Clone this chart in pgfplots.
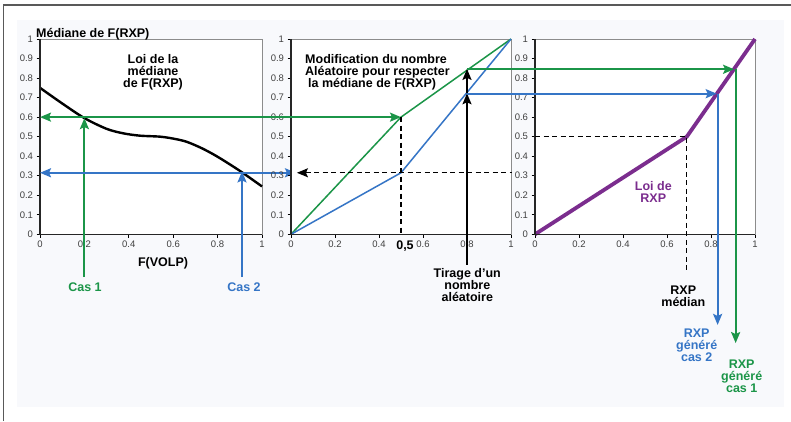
\documentclass[border=0pt]{standalone}
\usepackage{fontspec}
\setmainfont{Liberation Sans}
\usepackage{pgfplots}
\pgfplotsset{compat=1.18}
\usetikzlibrary{arrows.meta}
\definecolor{cgreen}{HTML}{1B9548}
\definecolor{cblue}{HTML}{3575C6}
\definecolor{cpurple}{HTML}{7B2D8E}
\definecolor{bg}{HTML}{F8F9FC}
\newcommand\lbl{\fontsize{12.5}{14.3}\selectfont\bfseries}
\newcommand\tkf{\fontsize{9.5}{10}\selectfont}
\tikzset{arr/.style={-{Stealth[length=11pt,width=9pt,inset=2pt]}},
  arrb/.style={{Stealth[length=11pt,width=9pt,inset=2pt]}-{Stealth[length=11pt,width=9pt,inset=2pt]}},
  arrl/.style={{Stealth[length=11pt,width=9pt,inset=2pt]}-},
  dsh/.style={black, line width=1.3pt, dash pattern=on 5pt off 3.5pt}}
\pgfplotsset{panel/.style={
  scale only axis, width=220pt, height=195.3pt, anchor=south west,
  xmin=0, xmax=1, ymin=0, ymax=1, clip=false,
  xtick={0,0.2,0.4,0.6,0.8,1},
  ytick={0,0.1,0.2,0.3,0.4,0.5,0.6,0.7,0.8,0.9,1},
  xticklabels={0,0.2,0.4,0.6,0.8,1},
  yticklabels={0,0.1,0.2,0.3,0.4,0.5,0.6,0.7,0.8,0.9,1},
  tick pos=left, tick align=outside, major tick length=3.5pt,
  axis background/.style={fill=white},
  axis line style={black!45, line width=0.8pt},
  tick style={black, line width=0.7pt},
  xticklabel style={font=\tkf, text=black!75},
  yticklabel style={font=\tkf, text=black!75},
}}
\begin{document}
\begin{tikzpicture}[x=1pt,y=1pt]
\useasboundingbox (0,0) rectangle (791,421);
\fill[white] (0,0) rectangle (791,421);
\fill[bg] (17,14) rectangle (784,401);
\draw[black!65, line width=1.5pt] (3.5,0) -- (3.5,416) -- (791,416);

% Panel 1
\begin{axis}[panel, width=222pt, at={(40pt,186.7pt)}]
\addplot[black, line width=2.4pt, smooth] coordinates {
(0,0.75) (0.1,0.67) (0.2,0.595) (0.3,0.54) (0.375,0.517) (0.45,0.505)
(0.54,0.5) (0.6,0.49) (0.66,0.474) (0.73,0.44) (0.8,0.397) (0.9,0.325) (1,0.245)};
\draw[black!85, line width=1.2pt] (axis cs:0,1) -- (axis cs:0,0) -- (axis cs:1,0);
\draw[cgreen, line width=2pt, arr] (axis cs:0.2,-0.219) -- (axis cs:0.2,0.595);
\draw[cblue, line width=2pt, arr] (axis cs:0.91,-0.219) -- (axis cs:0.91,0.322);
\draw[cblue, line width=2pt, arrb] (axis cs:0,0.315) -- (axis cs:1.153,0.315);
\end{axis}

% Panel 2
\begin{axis}[panel, at={(291pt,186.7pt)}]
\addplot[cgreen, line width=1.5pt] coordinates {(0,0) (0.5,0.6) (1,1)};
\addplot[cblue, line width=1.5pt] coordinates {(0,0) (0.5,0.315) (1,1)};
\draw[black!85, line width=1.2pt] (axis cs:0,1) -- (axis cs:0,0) -- (axis cs:1,0);
\draw[cgreen, line width=2pt, arrb] (axis cs:-1.141,0.6) -- (axis cs:0.5,0.6);
\draw[dsh, arrl] (axis cs:0.027,0.315) -- (axis cs:1.005,0.315);
\draw[dsh] (axis cs:0.5,0.6) -- (axis cs:0.5,0.0);
\draw[black, line width=1.8pt, arr] (axis cs:0.8,-0.157) -- (axis cs:0.8,0.722);
\draw[black, line width=1.8pt, arr] (axis cs:0.8,0.722) -- (axis cs:0.8,0.847);
\end{axis}

% Panel 3
\begin{axis}[panel, at={(535pt,186.7pt)}]
\addplot[cpurple, line width=3.8pt] coordinates {(0,0) (0.69,0.5) (1,1)};
\draw[black!85, line width=1.2pt] (axis cs:0,1) -- (axis cs:0,0) -- (axis cs:1,0);
\draw[dsh] (axis cs:0,0.5) -- (axis cs:0.69,0.5) -- (axis cs:0.69,-0.198);
\draw[cgreen, line width=2pt, arr] (axis cs:-0.309,0.845) -- (axis cs:0.905,0.845);
\draw[cgreen, line width=2pt, arr] (axis cs:0.912,0.845) -- (axis cs:0.912,-0.557);
\draw[cblue, line width=2pt, arr] (axis cs:-0.309,0.72) -- (axis cs:0.826,0.72);
\draw[cblue, line width=2pt, arr] (axis cs:0.83,0.72) -- (axis cs:0.83,-0.464);
\end{axis}

% Texts
\node[anchor=base west, inner sep=0] at (36,383.3) {\lbl Médiane de F(RXP)};
\node[align=center, inner sep=0] at (153,349.1) {\lbl Loi de la\\ \lbl médiane\\ \lbl de F(RXP)};
\node[anchor=base, inner sep=0] at (163,154.3) {\lbl F(VOLP)};
\node[anchor=base, inner sep=0, text=cgreen] at (85,129.3) {\lbl Cas 1};
\node[anchor=base, inner sep=0, text=cblue] at (244,129.3) {\lbl Cas 2};
\node[align=left, anchor=west, inner sep=0] at (305,349.2) {\lbl Modification du nombre\\ \lbl Aléatoire pour respecter\\ \lbl\hspace*{3pt}la médiane de F(RXP)};
\node[anchor=base, inner sep=0] at (405,171.7) {\lbl 0,5};
\node[align=center, inner sep=0] at (467.3,136.3) {\lbl Tirage d'un\\ \lbl nombre\\ \lbl aléatoire};
\node[align=center, inner sep=0, text=cpurple] at (653.3,228.7) {\lbl Loi de\\ \lbl RXP};
\node[align=center, inner sep=0] at (683.3,124.5) {\lbl RXP\\ \lbl médian};
\node[align=center, inner sep=0, text=cblue] at (696.7,75.4) {\lbl RXP\\ \lbl généré\\ \lbl cas 2};
\node[align=center, inner sep=0, text=cgreen] at (741.7,44.7) {\lbl RXP\\ \lbl généré\\ \lbl cas 1};
\end{tikzpicture}
\end{document}
